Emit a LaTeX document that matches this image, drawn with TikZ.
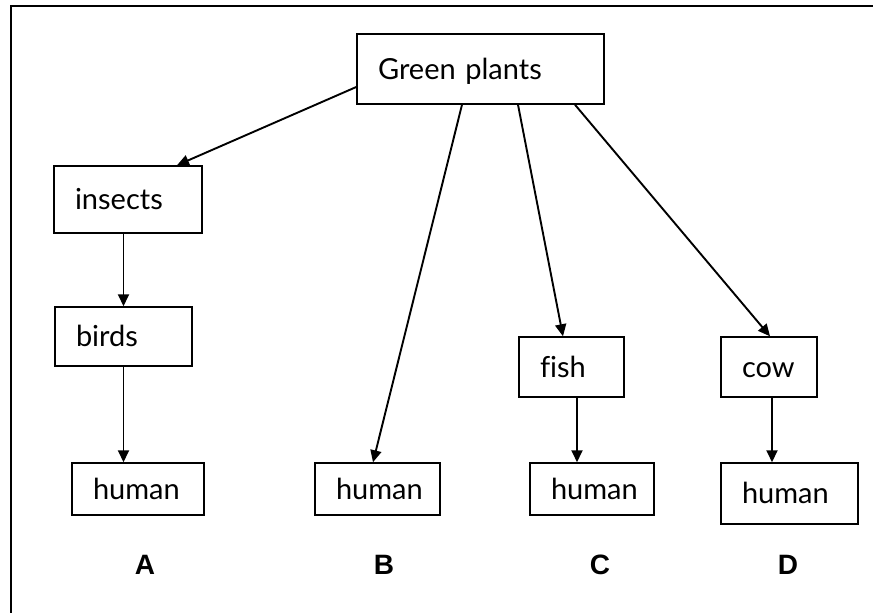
\documentclass[tikz,border=0pt]{standalone}
\usepackage{fontspec}
\usetikzlibrary{arrows.meta}
\newfontfamily\boxfont[Ligatures=NoCommon]{Lato}
\newfontfamily\labfont{Liberation Sans}
\tikzset{>={Triangle[length=12pt,width=11pt]},
  box/.style={draw, line width=1.5pt, align=left, text width=#1, inner xsep=21pt, inner ysep=0pt,
    text height=20pt, text depth=0pt, font=\boxfont\fontsize{29}{31}\selectfont},
  lab/.style={font=\labfont\bfseries\fontsize{28}{30}\selectfont},
  link/.style={->, line width=1.9pt}}

\begin{document}
\begin{tikzpicture}[x=1pt, y=-1pt]
    \useasboundingbox (0,0) rectangle (873,613);
    \draw[line width=1.5pt] (873,6) -- (11,6) -- (11,613);
    \node[box=205pt, minimum height=70pt] (plants) at (480.5,69) {Green plants};
    \node[box=106pt, minimum height=67pt] (insects) at (128,199.5) {insects};
    \node[box=95pt, minimum height=59pt] (birds) at (123.5,336.5) {birds};
    \node[box=63pt, minimum height=60pt] (fish) at (571.5,367) {fish};
    \node[box=54pt, minimum height=60pt] (cow) at (769,367) {cow};
    \node[box=90pt, minimum height=52pt] (humanA) at (138,489) {human};
    \node[box=83pt, minimum height=52pt] (humanB) at (377.5,489) {human};
    \node[box=82pt, minimum height=52pt] (humanC) at (592,489) {human};
    \node[box=95pt, minimum height=61pt] (humanD) at (789.5,493.5) {human};
    \node[lab] (A) at (145,565) {A};
    \node[lab] (B) at (384,565) {B};
    \node[lab] (C) at (600,565) {C};
    \node[lab] (D) at (788,565) {D};
    \draw[link] ([yshift=-18pt]plants.west) -- ([xshift=49pt]insects.north);
    \draw[link] ([xshift=-18.5pt]plants.south) -- ([xshift=-4.5pt]humanB.north);
    \draw[link] ([xshift=37.5pt]plants.south) -- ([xshift=-8.5pt]fish.north);
    \draw[link] ([xshift=94.5pt]plants.south) -- ([xshift=1pt]cow.north);
    \draw[link] (birds.north |- insects.south) -- (birds.north);
    \draw[link] (birds.south) -- (birds.south |- humanA.north);
    \draw[link] ([xshift=5.5pt]fish.south) -- ([xshift=5.5pt]fish.south |- humanC.north);
    \draw[link] ([xshift=3pt]cow.south) -- ([xshift=3pt]cow.south |- humanD.north);
\end{tikzpicture}
\end{document}
